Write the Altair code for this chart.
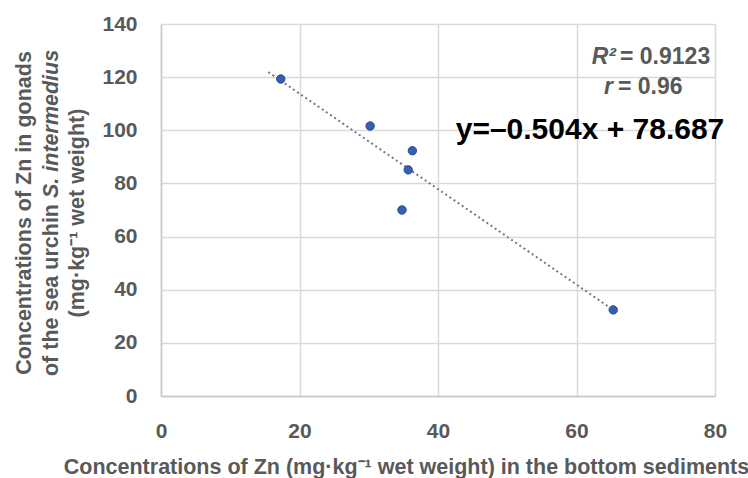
import altair as alt
import pandas as pd

# Zn concentrations: bottom sediments (x) vs. sea urchin gonads (y)
sediment_zn = [17.3, 30.2, 36.3, 35.7, 34.8, 65.3]
gonad_zn = [119.3, 101.6, 92.3, 85.1, 70.0, 32.4]

# Linear trend line end points
trend_x = [15.5, 65.3]
trend_y = [121.9, 32.4]

x_ticks = [0, 20, 40, 60, 80]
y_ticks = [0, 20, 40, 60, 80, 100, 120, 140]

GRAY = "#595959"
FONT = "Liberation Sans"

points_df = pd.DataFrame({"x": sediment_zn, "y": gonad_zn})
trend_df = pd.DataFrame({"x": trend_x, "y": trend_y})

x_scale = alt.Scale(domain=[0, 80], nice=False, zero=False)
y_scale = alt.Scale(domain=[0, 140], nice=False, zero=False)

x_axis = alt.Axis(
    values=x_ticks, grid=True, gridColor="#d9d9d9", gridWidth=1.5,
    domainColor="#c8c8c8", domainWidth=1.5, ticks=False, labelFlush=False,
    labelFont=FONT, labelFontSize=21, labelFontWeight="bold", labelColor=GRAY,
    labelPadding=24,
    title="Concentrations of Zn (mg\u00b7kg\u207b\u00b9 wet weight) in the bottom sediments",
    titleFont=FONT, titleFontSize=21.5, titleFontWeight="bold", titleColor=GRAY,
    titleX=245, titleY=71, titleBaseline="middle", titleAnchor="middle", titleAlign="center",
)
y_axis = alt.Axis(
    values=y_ticks, grid=True, gridColor="#d9d9d9", gridWidth=1.5,
    domainColor="#c8c8c8", domainWidth=1.5, ticks=False, labelFlush=False,
    labelFont=FONT, labelFontSize=21, labelFontWeight="bold", labelColor=GRAY,
    labelPadding=24, title=None,
)

base = alt.Chart(points_df)

points = base.mark_circle(
    size=70, color="#3560b0", opacity=1, stroke="#25468a", strokeWidth=1
).encode(
    x=alt.X("x:Q", scale=x_scale, axis=x_axis),
    y=alt.Y("y:Q", scale=y_scale, axis=y_axis),
)

trend = alt.Chart(trend_df).mark_line(
    color="#6c7990", strokeWidth=2, strokeDash=[2, 3]
).encode(
    x=alt.X("x:Q", scale=x_scale),
    y=alt.Y("y:Q", scale=y_scale),
)


def label(text, x, y, size, color=GRAY, align="left", style="normal", angle=0):
    return alt.Chart(pd.DataFrame({"t": [text]})).mark_text(
        font=FONT, fontSize=size, fontWeight="bold", fontStyle=style,
        color=color, align=align, baseline="middle", angle=angle,
    ).encode(text="t:N", x=alt.value(x), y=alt.value(y))


# Regression statistics
stats = [
    label("R\u00b2", 455, 33, 23, align="right", style="italic"),
    label("= 0.9123", 459, 33, 23),
    label("r", 452, 63, 23, align="right", style="italic"),
    label("= 0.96", 457, 63, 23),
    label("y=\u20130.504x + 78.687", 429, 106, 30, color="#000000", align="center"),
]

# Three-line y-axis title (second line partly italic)
y_title = [
    label("Concentrations of Zn in gonads", -136, 189, 21.5, align="center", angle=270),
    label("of the sea urchin", -109, 180, 21.5, align="right", angle=270),
    label("S. intermedius", -109, 174, 21.5, align="left", style="italic", angle=270),
    label("(mg\u00b7kg\u207b\u00b9 wet weight)", -83, 189, 21.5, align="center", angle=270),
]

chart = alt.layer(trend, points, *stats, *y_title).properties(
    width=554, height=372,
    autosize=alt.AutoSizeParams(type="none"),
    padding={"left": 161, "top": 24, "right": 33, "bottom": 82},
    background="white",
).configure_view(stroke=None)

chart.save("out.html", embed_options={"renderer": "svg", "actions": False})
